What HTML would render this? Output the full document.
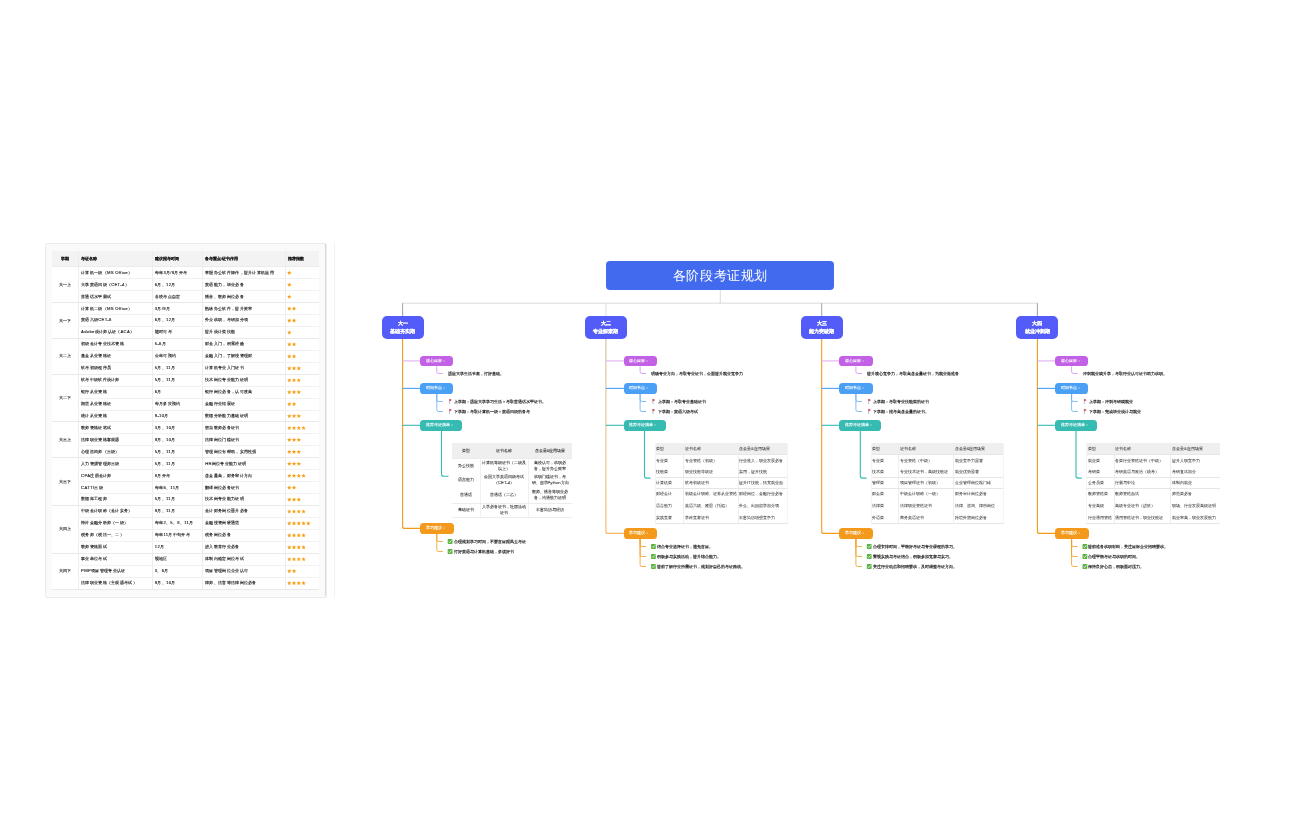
<!DOCTYPE html>
<html><head><meta charset="utf-8"><style>
html,body{margin:0;padding:0;background:#fff;width:1296px;height:840px;overflow:hidden}
#w{position:absolute;left:0;top:0;width:1296px;height:840px;will-change:transform;font-family:'Liberation Sans',sans-serif;}
.t{position:absolute;white-space:nowrap;-webkit-text-stroke:0.14px currentColor;font-family:'Liberation Sans',sans-serif;}
.b{position:absolute}
svg{position:absolute;left:0;top:0}
</style></head><body><div id="w">
<svg width="1296" height="840"><defs><linearGradient id="g2" gradientUnits="userSpaceOnUse" x1="0" y1="339" x2="0" y2="534"><stop offset="0" stop-color="#cdbf9e"/><stop offset="0.5" stop-color="#e6c48a"/><stop offset="1" stop-color="#f6b560"/></linearGradient></defs><line x1="720.30" y1="289.90" x2="720.30" y2="303.20" stroke="#d2d2d2" stroke-width="0.8"/><line x1="402.20" y1="303.20" x2="1037.80" y2="303.20" stroke="#d2d2d2" stroke-width="0.8"/><line x1="402.60" y1="303.20" x2="402.60" y2="316.00" stroke="#8a8a8a" stroke-width="0.8"/><line x1="605.90" y1="303.20" x2="605.90" y2="316.00" stroke="#d6d6d6" stroke-width="0.8"/><line x1="821.70" y1="303.20" x2="821.70" y2="316.00" stroke="#8a8a8a" stroke-width="0.8"/><line x1="1037.40" y1="303.20" x2="1037.40" y2="316.00" stroke="#8a8a8a" stroke-width="0.8"/><path d="M402.6 339 V526.4 Q402.6 528.4 404.6 528.4 H421.3" stroke="#f39a1c" stroke-width="1.1" fill="none"/><line x1="402.60" y1="360.90" x2="421.30" y2="360.90" stroke="#e4b6f4" stroke-width="1.2"/><line x1="402.60" y1="388.40" x2="421.30" y2="388.40" stroke="#4aa0f5" stroke-width="1.1"/><line x1="402.60" y1="425.30" x2="421.30" y2="425.30" stroke="#35bbb1" stroke-width="1.1"/><path d="M436.80 366.4 V371.7 Q436.80 373.5 438.60 373.5 H442.80" stroke="#d38bf0" stroke-width="0.8" fill="none"/><path d="M436.80 393.9 V399.70 Q436.80 401.5 438.60 401.5 H442.80" stroke="#62acf6" stroke-width="0.8" fill="none"/><path d="M436.80 393.9 V409.70 Q436.80 411.5 438.60 411.5 H442.80" stroke="#62acf6" stroke-width="0.8" fill="none"/><path d="M436.80 533.8 V539.70 Q436.80 541.5 438.60 541.5 H442.80" stroke="#f39a1c" stroke-width="0.8" fill="none"/><path d="M436.80 533.8 V549.70 Q436.80 551.5 438.60 551.5 H442.80" stroke="#f39a1c" stroke-width="0.8" fill="none"/><path d="M605.9 339 V531.4 Q605.9 533.4 607.9 533.4 H624.6" stroke="url(#g2)" stroke-width="1.1" fill="none"/><line x1="605.90" y1="360.90" x2="624.60" y2="360.90" stroke="#e4b6f4" stroke-width="1.2"/><line x1="605.90" y1="388.40" x2="624.60" y2="388.40" stroke="#4aa0f5" stroke-width="1.1"/><line x1="605.90" y1="425.30" x2="624.60" y2="425.30" stroke="#35bbb1" stroke-width="1.1"/><path d="M640.10 366.4 V371.7 Q640.10 373.5 641.90 373.5 H646.10" stroke="#d38bf0" stroke-width="0.8" fill="none"/><path d="M640.10 393.9 V399.70 Q640.10 401.5 641.90 401.5 H646.10" stroke="#62acf6" stroke-width="0.8" fill="none"/><path d="M640.10 393.9 V409.70 Q640.10 411.5 641.90 411.5 H646.10" stroke="#62acf6" stroke-width="0.8" fill="none"/><path d="M640.10 538.6 V544.70 Q640.10 546.5 641.90 546.5 H646.10" stroke="#f39a1c" stroke-width="0.8" fill="none"/><path d="M640.10 538.6 V554.70 Q640.10 556.5 641.90 556.5 H646.10" stroke="#f39a1c" stroke-width="0.8" fill="none"/><path d="M640.10 538.6 V564.70 Q640.10 566.5 641.90 566.5 H646.10" stroke="#f39a1c" stroke-width="0.8" fill="none"/><path d="M821.7 339 V531.4 Q821.7 533.4 823.7 533.4 H840.4000000000001" stroke="#f39a1c" stroke-width="1.1" fill="none"/><line x1="821.70" y1="360.90" x2="840.40" y2="360.90" stroke="#e4b6f4" stroke-width="1.2"/><line x1="821.70" y1="388.40" x2="840.40" y2="388.40" stroke="#4aa0f5" stroke-width="1.1"/><line x1="821.70" y1="425.30" x2="840.40" y2="425.30" stroke="#35bbb1" stroke-width="1.1"/><path d="M855.90 366.4 V371.7 Q855.90 373.5 857.70 373.5 H861.90" stroke="#d38bf0" stroke-width="0.8" fill="none"/><path d="M855.90 393.9 V399.70 Q855.90 401.5 857.70 401.5 H861.90" stroke="#62acf6" stroke-width="0.8" fill="none"/><path d="M855.90 393.9 V409.70 Q855.90 411.5 857.70 411.5 H861.90" stroke="#62acf6" stroke-width="0.8" fill="none"/><path d="M855.90 538.6 V544.70 Q855.90 546.5 857.70 546.5 H861.90" stroke="#f39a1c" stroke-width="0.8" fill="none"/><path d="M855.90 538.6 V554.70 Q855.90 556.5 857.70 556.5 H861.90" stroke="#f39a1c" stroke-width="0.8" fill="none"/><path d="M855.90 538.6 V564.70 Q855.90 566.5 857.70 566.5 H861.90" stroke="#f39a1c" stroke-width="0.8" fill="none"/><path d="M1037.4 339 V531.4 Q1037.4 533.4 1039.4 533.4 H1056.1000000000001" stroke="#f39a1c" stroke-width="1.1" fill="none"/><line x1="1037.40" y1="360.90" x2="1056.10" y2="360.90" stroke="#e4b6f4" stroke-width="1.2"/><line x1="1037.40" y1="388.40" x2="1056.10" y2="388.40" stroke="#4aa0f5" stroke-width="1.1"/><line x1="1037.40" y1="425.30" x2="1056.10" y2="425.30" stroke="#35bbb1" stroke-width="1.1"/><path d="M1071.60 366.4 V371.7 Q1071.60 373.5 1073.40 373.5 H1077.60" stroke="#d38bf0" stroke-width="0.8" fill="none"/><path d="M1071.60 393.9 V399.70 Q1071.60 401.5 1073.40 401.5 H1077.60" stroke="#62acf6" stroke-width="0.8" fill="none"/><path d="M1071.60 393.9 V409.70 Q1071.60 411.5 1073.40 411.5 H1077.60" stroke="#62acf6" stroke-width="0.8" fill="none"/><path d="M1071.60 538.6 V544.70 Q1071.60 546.5 1073.40 546.5 H1077.60" stroke="#f39a1c" stroke-width="0.8" fill="none"/><path d="M1071.60 538.6 V554.70 Q1071.60 556.5 1073.40 556.5 H1077.60" stroke="#f39a1c" stroke-width="0.8" fill="none"/><path d="M1071.60 538.6 V564.70 Q1071.60 566.5 1073.40 566.5 H1077.60" stroke="#f39a1c" stroke-width="0.8" fill="none"/><path d="M441.5 430.6 V474.3 Q441.5 476.3 443.5 476.3 H448.5" stroke="#35bbb1" stroke-width="1.1" fill="none"/><path d="M644.50 430.6 V476.1 Q644.50 478.1 646.50 478.1 H650.50" stroke="#35bbb1" stroke-width="1.1" fill="none"/><path d="M860.30 430.6 V476.1 Q860.30 478.1 862.30 478.1 H866.50" stroke="#35bbb1" stroke-width="1.1" fill="none"/><path d="M1076.00 430.6 V476.1 Q1076.00 478.1 1078.00 478.1 H1081.70" stroke="#35bbb1" stroke-width="1.1" fill="none"/></svg>
<div class="b" style="left:45.20px;top:243.00px;width:281.50px;height:354.60px;background:#fafafa;border:0.6px solid #ececec;border-radius:2px;box-sizing:border-box"></div>
<div class="b" style="left:325.40px;top:244.20px;width:1.00px;height:352.00px;background:#d8d8d8;"></div>
<div class="b" style="left:333.80px;top:243.00px;width:0.70px;height:354.00px;background:#f2f2f2;"></div>
<div class="b" style="left:52.30px;top:251.20px;width:266.60px;height:15.50px;background:#f3f3f3;"></div>
<div class="b" style="left:52.30px;top:266.70px;width:266.60px;height:322.20px;background:#fff;"></div>
<div class="t" style="left:52.3px;top:251.2px;width:26.200000000000003px;height:15.5px;line-height:15.5px;text-align:center;font-size:4.3px;font-weight:bold;color:#1a1a1a;-webkit-text-stroke:0.08px #1a1a1a">学期</div>
<div class="t" style="left:81.10px;top:251.20px;height:15.50px;line-height:15.50px;font-size:4.3px;color:#1a1a1a;font-weight:bold;-webkit-text-stroke:0.08px #1a1a1a">考证名称</div>
<div class="t" style="left:154.80px;top:251.20px;height:15.50px;line-height:15.50px;font-size:4.3px;color:#1a1a1a;font-weight:bold;-webkit-text-stroke:0.08px #1a1a1a">建议报考时间</div>
<div class="t" style="left:205.20px;top:251.20px;height:15.50px;line-height:15.50px;font-size:4.3px;color:#1a1a1a;font-weight:bold;-webkit-text-stroke:0.08px #1a1a1a">备考重点/证书作用</div>
<div class="t" style="left:288.00px;top:251.20px;height:15.50px;line-height:15.50px;font-size:4.3px;color:#1a1a1a;font-weight:bold;-webkit-text-stroke:0.08px #1a1a1a">推荐指数</div>
<div class="b" style="left:78.20px;top:251.20px;width:0.60px;height:337.70px;background:#ededed;"></div>
<div class="b" style="left:151.90px;top:251.20px;width:0.60px;height:337.70px;background:#ededed;"></div>
<div class="b" style="left:202.30px;top:251.20px;width:0.60px;height:337.70px;background:#ededed;"></div>
<div class="b" style="left:285.10px;top:251.20px;width:0.60px;height:337.70px;background:#ededed;"></div>
<div class="t" style="left:52.3px;top:266.70px;width:26.200000000000003px;height:35.80px;line-height:35.80px;text-align:center;font-size:4.3px;color:#111;-webkit-text-stroke:0.12px #111">大一上</div>
<div class="t" style="left:81.10px;top:266.70px;height:11.93px;line-height:11.93px;font-size:4.2px;color:#1a1a1a;letter-spacing:0.3px;-webkit-text-stroke:0.12px #1a1a1a">计算机一级（MS Office）</div>
<div class="t" style="left:154.80px;top:266.70px;height:11.93px;line-height:11.93px;font-size:4.2px;color:#1a1a1a;letter-spacing:0.3px;-webkit-text-stroke:0.12px #1a1a1a">每年3月/9月开考</div>
<div class="t" style="left:205.20px;top:266.70px;height:11.93px;line-height:11.93px;font-size:4.2px;color:#1a1a1a;letter-spacing:0.3px;-webkit-text-stroke:0.12px #1a1a1a">掌握办公软件操作，提升计算机应用</div>
<div class="b" style="left:78.50px;top:278.33px;width:240.40px;height:0.60px;background:#f1f1f1;"></div>
<div class="t" style="left:81.10px;top:278.63px;height:11.93px;line-height:11.93px;font-size:4.2px;color:#1a1a1a;letter-spacing:0.3px;-webkit-text-stroke:0.12px #1a1a1a">大学英语四级（CET-4）</div>
<div class="t" style="left:154.80px;top:278.63px;height:11.93px;line-height:11.93px;font-size:4.2px;color:#1a1a1a;letter-spacing:0.3px;-webkit-text-stroke:0.12px #1a1a1a">6月、12月</div>
<div class="t" style="left:205.20px;top:278.63px;height:11.93px;line-height:11.93px;font-size:4.2px;color:#1a1a1a;letter-spacing:0.3px;-webkit-text-stroke:0.12px #1a1a1a">英语能力，毕业必备</div>
<div class="b" style="left:78.50px;top:290.27px;width:240.40px;height:0.60px;background:#f1f1f1;"></div>
<div class="t" style="left:81.10px;top:290.57px;height:11.93px;line-height:11.93px;font-size:4.2px;color:#1a1a1a;letter-spacing:0.3px;-webkit-text-stroke:0.12px #1a1a1a">普通话水平测试</div>
<div class="t" style="left:154.80px;top:290.57px;height:11.93px;line-height:11.93px;font-size:4.2px;color:#1a1a1a;letter-spacing:0.3px;-webkit-text-stroke:0.12px #1a1a1a">各校考点自定</div>
<div class="t" style="left:205.20px;top:290.57px;height:11.93px;line-height:11.93px;font-size:4.2px;color:#1a1a1a;letter-spacing:0.3px;-webkit-text-stroke:0.12px #1a1a1a">播音、教师岗位必备</div>
<div class="b" style="left:52.30px;top:302.10px;width:266.60px;height:0.80px;background:#e9e9e9;"></div>
<div class="t" style="left:52.3px;top:302.50px;width:26.200000000000003px;height:35.80px;line-height:35.80px;text-align:center;font-size:4.3px;color:#111;-webkit-text-stroke:0.12px #111">大一下</div>
<div class="t" style="left:81.10px;top:302.50px;height:11.93px;line-height:11.93px;font-size:4.2px;color:#1a1a1a;letter-spacing:0.3px;-webkit-text-stroke:0.12px #1a1a1a">计算机二级（MS Office）</div>
<div class="t" style="left:154.80px;top:302.50px;height:11.93px;line-height:11.93px;font-size:4.2px;color:#1a1a1a;letter-spacing:0.3px;-webkit-text-stroke:0.12px #1a1a1a">3月/9月</div>
<div class="t" style="left:205.20px;top:302.50px;height:11.93px;line-height:11.93px;font-size:4.2px;color:#1a1a1a;letter-spacing:0.3px;-webkit-text-stroke:0.12px #1a1a1a">熟练办公软件，提升效率</div>
<div class="b" style="left:78.50px;top:314.13px;width:240.40px;height:0.60px;background:#f1f1f1;"></div>
<div class="t" style="left:81.10px;top:314.43px;height:11.93px;line-height:11.93px;font-size:4.2px;color:#1a1a1a;letter-spacing:0.3px;-webkit-text-stroke:0.12px #1a1a1a">英语六级CET-6</div>
<div class="t" style="left:154.80px;top:314.43px;height:11.93px;line-height:11.93px;font-size:4.2px;color:#1a1a1a;letter-spacing:0.3px;-webkit-text-stroke:0.12px #1a1a1a">6月、12月</div>
<div class="t" style="left:205.20px;top:314.43px;height:11.93px;line-height:11.93px;font-size:4.2px;color:#1a1a1a;letter-spacing:0.3px;-webkit-text-stroke:0.12px #1a1a1a">外企求职，考研加分项</div>
<div class="b" style="left:78.50px;top:326.07px;width:240.40px;height:0.60px;background:#f1f1f1;"></div>
<div class="t" style="left:81.10px;top:326.37px;height:11.93px;line-height:11.93px;font-size:4.2px;color:#1a1a1a;letter-spacing:0.3px;-webkit-text-stroke:0.12px #1a1a1a">Adobe设计师认证（ACA）</div>
<div class="t" style="left:154.80px;top:326.37px;height:11.93px;line-height:11.93px;font-size:4.2px;color:#1a1a1a;letter-spacing:0.3px;-webkit-text-stroke:0.12px #1a1a1a">随时可考</div>
<div class="t" style="left:205.20px;top:326.37px;height:11.93px;line-height:11.93px;font-size:4.2px;color:#1a1a1a;letter-spacing:0.3px;-webkit-text-stroke:0.12px #1a1a1a">提升设计类技能</div>
<div class="b" style="left:52.30px;top:337.90px;width:266.60px;height:0.80px;background:#e9e9e9;"></div>
<div class="t" style="left:52.3px;top:338.30px;width:26.200000000000003px;height:35.80px;line-height:35.80px;text-align:center;font-size:4.3px;color:#111;-webkit-text-stroke:0.12px #111">大二上</div>
<div class="t" style="left:81.10px;top:338.30px;height:11.93px;line-height:11.93px;font-size:4.2px;color:#1a1a1a;letter-spacing:0.3px;-webkit-text-stroke:0.12px #1a1a1a">初级会计专业技术资格</div>
<div class="t" style="left:154.80px;top:338.30px;height:11.93px;line-height:11.93px;font-size:4.2px;color:#1a1a1a;letter-spacing:0.3px;-webkit-text-stroke:0.12px #1a1a1a">5-6月</div>
<div class="t" style="left:205.20px;top:338.30px;height:11.93px;line-height:11.93px;font-size:4.2px;color:#1a1a1a;letter-spacing:0.3px;-webkit-text-stroke:0.12px #1a1a1a">财会入门，积累经验</div>
<div class="b" style="left:78.50px;top:349.93px;width:240.40px;height:0.60px;background:#f1f1f1;"></div>
<div class="t" style="left:81.10px;top:350.23px;height:11.93px;line-height:11.93px;font-size:4.2px;color:#1a1a1a;letter-spacing:0.3px;-webkit-text-stroke:0.12px #1a1a1a">基金从业资格证</div>
<div class="t" style="left:154.80px;top:350.23px;height:11.93px;line-height:11.93px;font-size:4.2px;color:#1a1a1a;letter-spacing:0.3px;-webkit-text-stroke:0.12px #1a1a1a">全年可预约</div>
<div class="t" style="left:205.20px;top:350.23px;height:11.93px;line-height:11.93px;font-size:4.2px;color:#1a1a1a;letter-spacing:0.3px;-webkit-text-stroke:0.12px #1a1a1a">金融入门，了解投资理财</div>
<div class="b" style="left:78.50px;top:361.87px;width:240.40px;height:0.60px;background:#f1f1f1;"></div>
<div class="t" style="left:81.10px;top:362.17px;height:11.93px;line-height:11.93px;font-size:4.2px;color:#1a1a1a;letter-spacing:0.3px;-webkit-text-stroke:0.12px #1a1a1a">软考初级程序员</div>
<div class="t" style="left:154.80px;top:362.17px;height:11.93px;line-height:11.93px;font-size:4.2px;color:#1a1a1a;letter-spacing:0.3px;-webkit-text-stroke:0.12px #1a1a1a">5月、11月</div>
<div class="t" style="left:205.20px;top:362.17px;height:11.93px;line-height:11.93px;font-size:4.2px;color:#1a1a1a;letter-spacing:0.3px;-webkit-text-stroke:0.12px #1a1a1a">计算机专业入门证书</div>
<div class="b" style="left:52.30px;top:373.70px;width:266.60px;height:0.80px;background:#e9e9e9;"></div>
<div class="t" style="left:52.3px;top:374.10px;width:26.200000000000003px;height:47.73px;line-height:47.73px;text-align:center;font-size:4.3px;color:#111;-webkit-text-stroke:0.12px #111">大二下</div>
<div class="t" style="left:81.10px;top:374.10px;height:11.93px;line-height:11.93px;font-size:4.2px;color:#1a1a1a;letter-spacing:0.3px;-webkit-text-stroke:0.12px #1a1a1a">软考中级软件设计师</div>
<div class="t" style="left:154.80px;top:374.10px;height:11.93px;line-height:11.93px;font-size:4.2px;color:#1a1a1a;letter-spacing:0.3px;-webkit-text-stroke:0.12px #1a1a1a">5月、11月</div>
<div class="t" style="left:205.20px;top:374.10px;height:11.93px;line-height:11.93px;font-size:4.2px;color:#1a1a1a;letter-spacing:0.3px;-webkit-text-stroke:0.12px #1a1a1a">技术岗位专业能力证明</div>
<div class="b" style="left:78.50px;top:385.73px;width:240.40px;height:0.60px;background:#f1f1f1;"></div>
<div class="t" style="left:81.10px;top:386.03px;height:11.93px;line-height:11.93px;font-size:4.2px;color:#1a1a1a;letter-spacing:0.3px;-webkit-text-stroke:0.12px #1a1a1a">银行从业资格</div>
<div class="t" style="left:154.80px;top:386.03px;height:11.93px;line-height:11.93px;font-size:4.2px;color:#1a1a1a;letter-spacing:0.3px;-webkit-text-stroke:0.12px #1a1a1a">6月</div>
<div class="t" style="left:205.20px;top:386.03px;height:11.93px;line-height:11.93px;font-size:4.2px;color:#1a1a1a;letter-spacing:0.3px;-webkit-text-stroke:0.12px #1a1a1a">银行岗位必备，认可度高</div>
<div class="b" style="left:78.50px;top:397.67px;width:240.40px;height:0.60px;background:#f1f1f1;"></div>
<div class="t" style="left:81.10px;top:397.97px;height:11.93px;line-height:11.93px;font-size:4.2px;color:#1a1a1a;letter-spacing:0.3px;-webkit-text-stroke:0.12px #1a1a1a">期货从业资格证</div>
<div class="t" style="left:154.80px;top:397.97px;height:11.93px;line-height:11.93px;font-size:4.2px;color:#1a1a1a;letter-spacing:0.3px;-webkit-text-stroke:0.12px #1a1a1a">每月多次预约</div>
<div class="t" style="left:205.20px;top:397.97px;height:11.93px;line-height:11.93px;font-size:4.2px;color:#1a1a1a;letter-spacing:0.3px;-webkit-text-stroke:0.12px #1a1a1a">金融行业拓展证</div>
<div class="b" style="left:78.50px;top:409.60px;width:240.40px;height:0.60px;background:#f1f1f1;"></div>
<div class="t" style="left:81.10px;top:409.90px;height:11.93px;line-height:11.93px;font-size:4.2px;color:#1a1a1a;letter-spacing:0.3px;-webkit-text-stroke:0.12px #1a1a1a">统计从业资格</div>
<div class="t" style="left:154.80px;top:409.90px;height:11.93px;line-height:11.93px;font-size:4.2px;color:#1a1a1a;letter-spacing:0.3px;-webkit-text-stroke:0.12px #1a1a1a">9-10月</div>
<div class="t" style="left:205.20px;top:409.90px;height:11.93px;line-height:11.93px;font-size:4.2px;color:#1a1a1a;letter-spacing:0.3px;-webkit-text-stroke:0.12px #1a1a1a">数据分析能力基础证明</div>
<div class="b" style="left:52.30px;top:421.43px;width:266.60px;height:0.80px;background:#e9e9e9;"></div>
<div class="t" style="left:52.3px;top:421.83px;width:26.200000000000003px;height:35.80px;line-height:35.80px;text-align:center;font-size:4.3px;color:#111;-webkit-text-stroke:0.12px #111">大三上</div>
<div class="t" style="left:81.10px;top:421.83px;height:11.93px;line-height:11.93px;font-size:4.2px;color:#1a1a1a;letter-spacing:0.3px;-webkit-text-stroke:0.12px #1a1a1a">教师资格证笔试</div>
<div class="t" style="left:154.80px;top:421.83px;height:11.93px;line-height:11.93px;font-size:4.2px;color:#1a1a1a;letter-spacing:0.3px;-webkit-text-stroke:0.12px #1a1a1a">3月、10月</div>
<div class="t" style="left:205.20px;top:421.83px;height:11.93px;line-height:11.93px;font-size:4.2px;color:#1a1a1a;letter-spacing:0.3px;-webkit-text-stroke:0.12px #1a1a1a">想当教师必备证书</div>
<div class="b" style="left:78.50px;top:433.47px;width:240.40px;height:0.60px;background:#f1f1f1;"></div>
<div class="t" style="left:81.10px;top:433.77px;height:11.93px;line-height:11.93px;font-size:4.2px;color:#1a1a1a;letter-spacing:0.3px;-webkit-text-stroke:0.12px #1a1a1a">法律职业资格客观题</div>
<div class="t" style="left:154.80px;top:433.77px;height:11.93px;line-height:11.93px;font-size:4.2px;color:#1a1a1a;letter-spacing:0.3px;-webkit-text-stroke:0.12px #1a1a1a">9月、10月</div>
<div class="t" style="left:205.20px;top:433.77px;height:11.93px;line-height:11.93px;font-size:4.2px;color:#1a1a1a;letter-spacing:0.3px;-webkit-text-stroke:0.12px #1a1a1a">法律岗位门槛证书</div>
<div class="b" style="left:78.50px;top:445.40px;width:240.40px;height:0.60px;background:#f1f1f1;"></div>
<div class="t" style="left:81.10px;top:445.70px;height:11.93px;line-height:11.93px;font-size:4.2px;color:#1a1a1a;letter-spacing:0.3px;-webkit-text-stroke:0.12px #1a1a1a">心理咨询师（三级）</div>
<div class="t" style="left:154.80px;top:445.70px;height:11.93px;line-height:11.93px;font-size:4.2px;color:#1a1a1a;letter-spacing:0.3px;-webkit-text-stroke:0.12px #1a1a1a">5月、11月</div>
<div class="t" style="left:205.20px;top:445.70px;height:11.93px;line-height:11.93px;font-size:4.2px;color:#1a1a1a;letter-spacing:0.3px;-webkit-text-stroke:0.12px #1a1a1a">管理岗位有帮助，实用性强</div>
<div class="b" style="left:52.30px;top:457.23px;width:266.60px;height:0.80px;background:#e9e9e9;"></div>
<div class="t" style="left:52.3px;top:457.63px;width:26.200000000000003px;height:47.73px;line-height:47.73px;text-align:center;font-size:4.3px;color:#111;-webkit-text-stroke:0.12px #111">大三下</div>
<div class="t" style="left:81.10px;top:457.63px;height:11.93px;line-height:11.93px;font-size:4.2px;color:#1a1a1a;letter-spacing:0.3px;-webkit-text-stroke:0.12px #1a1a1a">人力资源管理师三级</div>
<div class="t" style="left:154.80px;top:457.63px;height:11.93px;line-height:11.93px;font-size:4.2px;color:#1a1a1a;letter-spacing:0.3px;-webkit-text-stroke:0.12px #1a1a1a">5月、11月</div>
<div class="t" style="left:205.20px;top:457.63px;height:11.93px;line-height:11.93px;font-size:4.2px;color:#1a1a1a;letter-spacing:0.3px;-webkit-text-stroke:0.12px #1a1a1a">HR岗位专业能力证明</div>
<div class="b" style="left:78.50px;top:469.27px;width:240.40px;height:0.60px;background:#f1f1f1;"></div>
<div class="t" style="left:81.10px;top:469.57px;height:11.93px;line-height:11.93px;font-size:4.2px;color:#1a1a1a;letter-spacing:0.3px;-webkit-text-stroke:0.12px #1a1a1a">CPA注册会计师</div>
<div class="t" style="left:154.80px;top:469.57px;height:11.93px;line-height:11.93px;font-size:4.2px;color:#1a1a1a;letter-spacing:0.3px;-webkit-text-stroke:0.12px #1a1a1a">8月开考</div>
<div class="t" style="left:205.20px;top:469.57px;height:11.93px;line-height:11.93px;font-size:4.2px;color:#1a1a1a;letter-spacing:0.3px;-webkit-text-stroke:0.12px #1a1a1a">含金量高，财务审计方向</div>
<div class="b" style="left:78.50px;top:481.20px;width:240.40px;height:0.60px;background:#f1f1f1;"></div>
<div class="t" style="left:81.10px;top:481.50px;height:11.93px;line-height:11.93px;font-size:4.2px;color:#1a1a1a;letter-spacing:0.3px;-webkit-text-stroke:0.12px #1a1a1a">CATTI三级</div>
<div class="t" style="left:154.80px;top:481.50px;height:11.93px;line-height:11.93px;font-size:4.2px;color:#1a1a1a;letter-spacing:0.3px;-webkit-text-stroke:0.12px #1a1a1a">每年6、11月</div>
<div class="t" style="left:205.20px;top:481.50px;height:11.93px;line-height:11.93px;font-size:4.2px;color:#1a1a1a;letter-spacing:0.3px;-webkit-text-stroke:0.12px #1a1a1a">翻译岗位必备证书</div>
<div class="b" style="left:78.50px;top:493.13px;width:240.40px;height:0.60px;background:#f1f1f1;"></div>
<div class="t" style="left:81.10px;top:493.43px;height:11.93px;line-height:11.93px;font-size:4.2px;color:#1a1a1a;letter-spacing:0.3px;-webkit-text-stroke:0.12px #1a1a1a">数据库工程师</div>
<div class="t" style="left:154.80px;top:493.43px;height:11.93px;line-height:11.93px;font-size:4.2px;color:#1a1a1a;letter-spacing:0.3px;-webkit-text-stroke:0.12px #1a1a1a">5月、11月</div>
<div class="t" style="left:205.20px;top:493.43px;height:11.93px;line-height:11.93px;font-size:4.2px;color:#1a1a1a;letter-spacing:0.3px;-webkit-text-stroke:0.12px #1a1a1a">技术岗专业能力证明</div>
<div class="b" style="left:52.30px;top:504.97px;width:266.60px;height:0.80px;background:#e9e9e9;"></div>
<div class="t" style="left:52.3px;top:505.37px;width:26.200000000000003px;height:47.73px;line-height:47.73px;text-align:center;font-size:4.3px;color:#111;-webkit-text-stroke:0.12px #111">大四上</div>
<div class="t" style="left:81.10px;top:505.37px;height:11.93px;line-height:11.93px;font-size:4.2px;color:#1a1a1a;letter-spacing:0.3px;-webkit-text-stroke:0.12px #1a1a1a">中级会计职称（会计实务）</div>
<div class="t" style="left:154.80px;top:505.37px;height:11.93px;line-height:11.93px;font-size:4.2px;color:#1a1a1a;letter-spacing:0.3px;-webkit-text-stroke:0.12px #1a1a1a">9月、11月</div>
<div class="t" style="left:205.20px;top:505.37px;height:11.93px;line-height:11.93px;font-size:4.2px;color:#1a1a1a;letter-spacing:0.3px;-webkit-text-stroke:0.12px #1a1a1a">会计财务岗位晋升必备</div>
<div class="b" style="left:78.50px;top:517.00px;width:240.40px;height:0.60px;background:#f1f1f1;"></div>
<div class="t" style="left:81.10px;top:517.30px;height:11.93px;line-height:11.93px;font-size:4.2px;color:#1a1a1a;letter-spacing:0.3px;-webkit-text-stroke:0.12px #1a1a1a">特许金融分析师（一级）</div>
<div class="t" style="left:154.80px;top:517.30px;height:11.93px;line-height:11.93px;font-size:4.2px;color:#1a1a1a;letter-spacing:0.3px;-webkit-text-stroke:0.12px #1a1a1a">每年2、5、8、11月</div>
<div class="t" style="left:205.20px;top:517.30px;height:11.93px;line-height:11.93px;font-size:4.2px;color:#1a1a1a;letter-spacing:0.3px;-webkit-text-stroke:0.12px #1a1a1a">金融投资岗硬通货</div>
<div class="b" style="left:78.50px;top:528.93px;width:240.40px;height:0.60px;background:#f1f1f1;"></div>
<div class="t" style="left:81.10px;top:529.23px;height:11.93px;line-height:11.93px;font-size:4.2px;color:#1a1a1a;letter-spacing:0.3px;-webkit-text-stroke:0.12px #1a1a1a">税务师（税法一、二）</div>
<div class="t" style="left:154.80px;top:529.23px;height:11.93px;line-height:11.93px;font-size:4.2px;color:#1a1a1a;letter-spacing:0.3px;-webkit-text-stroke:0.12px #1a1a1a">每年11月中旬开考</div>
<div class="t" style="left:205.20px;top:529.23px;height:11.93px;line-height:11.93px;font-size:4.2px;color:#1a1a1a;letter-spacing:0.3px;-webkit-text-stroke:0.12px #1a1a1a">税务岗位必备</div>
<div class="b" style="left:78.50px;top:540.87px;width:240.40px;height:0.60px;background:#f1f1f1;"></div>
<div class="t" style="left:81.10px;top:541.17px;height:11.93px;line-height:11.93px;font-size:4.2px;color:#1a1a1a;letter-spacing:0.3px;-webkit-text-stroke:0.12px #1a1a1a">教师资格面试</div>
<div class="t" style="left:154.80px;top:541.17px;height:11.93px;line-height:11.93px;font-size:4.2px;color:#1a1a1a;letter-spacing:0.3px;-webkit-text-stroke:0.12px #1a1a1a">12月</div>
<div class="t" style="left:205.20px;top:541.17px;height:11.93px;line-height:11.93px;font-size:4.2px;color:#1a1a1a;letter-spacing:0.3px;-webkit-text-stroke:0.12px #1a1a1a">进入教育行业必备</div>
<div class="b" style="left:52.30px;top:552.70px;width:266.60px;height:0.80px;background:#e9e9e9;"></div>
<div class="t" style="left:52.3px;top:553.10px;width:26.200000000000003px;height:35.80px;line-height:35.80px;text-align:center;font-size:4.3px;color:#111;-webkit-text-stroke:0.12px #111">大四下</div>
<div class="t" style="left:81.10px;top:553.10px;height:11.93px;line-height:11.93px;font-size:4.2px;color:#1a1a1a;letter-spacing:0.3px;-webkit-text-stroke:0.12px #1a1a1a">事业单位考试</div>
<div class="t" style="left:154.80px;top:553.10px;height:11.93px;line-height:11.93px;font-size:4.2px;color:#1a1a1a;letter-spacing:0.3px;-webkit-text-stroke:0.12px #1a1a1a">视地区</div>
<div class="t" style="left:205.20px;top:553.10px;height:11.93px;line-height:11.93px;font-size:4.2px;color:#1a1a1a;letter-spacing:0.3px;-webkit-text-stroke:0.12px #1a1a1a">体制内稳定岗位考试</div>
<div class="b" style="left:78.50px;top:564.73px;width:240.40px;height:0.60px;background:#f1f1f1;"></div>
<div class="t" style="left:81.10px;top:565.03px;height:11.93px;line-height:11.93px;font-size:4.2px;color:#1a1a1a;letter-spacing:0.3px;-webkit-text-stroke:0.12px #1a1a1a">PMP项目管理专业认证</div>
<div class="t" style="left:154.80px;top:565.03px;height:11.93px;line-height:11.93px;font-size:4.2px;color:#1a1a1a;letter-spacing:0.3px;-webkit-text-stroke:0.12px #1a1a1a">3、6月</div>
<div class="t" style="left:205.20px;top:565.03px;height:11.93px;line-height:11.93px;font-size:4.2px;color:#1a1a1a;letter-spacing:0.3px;-webkit-text-stroke:0.12px #1a1a1a">项目管理岗位企业认可</div>
<div class="b" style="left:78.50px;top:576.67px;width:240.40px;height:0.60px;background:#f1f1f1;"></div>
<div class="t" style="left:81.10px;top:576.97px;height:11.93px;line-height:11.93px;font-size:4.2px;color:#1a1a1a;letter-spacing:0.3px;-webkit-text-stroke:0.12px #1a1a1a">法律职业资格（主观题考试）</div>
<div class="t" style="left:154.80px;top:576.97px;height:11.93px;line-height:11.93px;font-size:4.2px;color:#1a1a1a;letter-spacing:0.3px;-webkit-text-stroke:0.12px #1a1a1a">9月、10月</div>
<div class="t" style="left:205.20px;top:576.97px;height:11.93px;line-height:11.93px;font-size:4.2px;color:#1a1a1a;letter-spacing:0.3px;-webkit-text-stroke:0.12px #1a1a1a">律师、法官等法律岗位必备</div>
<div class="b" style="left:52.30px;top:588.50px;width:266.60px;height:0.80px;background:#e9e9e9;"></div>
<div class="b" style="left:52.30px;top:266.30px;width:266.60px;height:0.80px;background:#ebebeb;"></div>
<div class="t" style="left:606px;top:260.6px;width:228.2px;height:29.1px;background:#416aef;border-radius:4px;color:#fff;font-size:13px;letter-spacing:0.55px;text-indent:0.55px;line-height:29.1px;-webkit-text-stroke:0;text-align:center">各阶段考证规划</div>
<div class="t" style="left:381.50px;top:316px;width:42.2px;height:23px;background:#535cf9;border-radius:5px;color:#fff;font-weight:bold;font-size:5.4px;line-height:8.6px;-webkit-text-stroke:0.1px #fff;text-align:center;white-space:normal;padding-top:2.5px;box-sizing:border-box">大一<br>基础夯实期</div>
<div class="t" style="left:420.30px;top:355.5px;width:33.2px;height:10.90px;background:#c260e6;border-radius:3.6px;color:#fff;font-size:4.4px;-webkit-text-stroke:0.08px #fff;line-height:10.90px;padding-left:5.6px;box-sizing:border-box">核心目标：</div>
<div class="t" style="left:420.30px;top:383px;width:33.2px;height:10.90px;background:#4aa0f5;border-radius:3.6px;color:#fff;font-size:4.4px;-webkit-text-stroke:0.08px #fff;line-height:10.90px;padding-left:5.6px;box-sizing:border-box">时间节点：</div>
<div class="t" style="left:420.30px;top:419.9px;width:42px;height:10.70px;background:#35bbb1;border-radius:3.6px;color:#fff;font-size:4.4px;-webkit-text-stroke:0.08px #fff;line-height:10.70px;padding-left:5.6px;box-sizing:border-box">推荐考证清单：</div>
<div class="t" style="left:420.30px;top:523px;width:33.5px;height:10.80px;background:#f39a1c;border-radius:3.6px;color:#fff;font-size:4.4px;-webkit-text-stroke:0.08px #fff;line-height:10.80px;padding-left:5.6px;box-sizing:border-box">学习建议：</div>
<div class="t" style="left:447.90px;top:370.30px;height:7.00px;line-height:7.00px;font-size:4.3px;color:#1a1a1a;">适应大学生活节奏，打好基础。</div>
<div class="t" style="left:454.30px;top:398.10px;height:7.00px;line-height:7.00px;font-size:4.3px;color:#1a1a1a;">上学期：适应大学学习生活＋考取普通话水平证书。</div>
<div class="t" style="left:454.30px;top:408.10px;height:7.00px;line-height:7.00px;font-size:4.3px;color:#1a1a1a;">下学期：考取计算机一级＋英语四级的备考</div>
<div class="t" style="left:453.50px;top:538.10px;height:7.00px;line-height:7.00px;font-size:4.3px;color:#1a1a1a;">合理规划学习时间，不要盲目跟风去考证</div>
<div class="t" style="left:453.50px;top:548.10px;height:7.00px;line-height:7.00px;font-size:4.3px;color:#1a1a1a;">打好英语与计算机基础，多读好书</div>
<div class="t" style="left:584.80px;top:316px;width:42.2px;height:23px;background:#535cf9;border-radius:5px;color:#fff;font-weight:bold;font-size:5.4px;line-height:8.6px;-webkit-text-stroke:0.1px #fff;text-align:center;white-space:normal;padding-top:2.5px;box-sizing:border-box">大二<br>专业探索期</div>
<div class="t" style="left:623.60px;top:355.5px;width:33.2px;height:10.90px;background:#c260e6;border-radius:3.6px;color:#fff;font-size:4.4px;-webkit-text-stroke:0.08px #fff;line-height:10.90px;padding-left:5.6px;box-sizing:border-box">核心目标：</div>
<div class="t" style="left:623.60px;top:383px;width:33.2px;height:10.90px;background:#4aa0f5;border-radius:3.6px;color:#fff;font-size:4.4px;-webkit-text-stroke:0.08px #fff;line-height:10.90px;padding-left:5.6px;box-sizing:border-box">时间节点：</div>
<div class="t" style="left:623.60px;top:419.9px;width:42px;height:10.70px;background:#35bbb1;border-radius:3.6px;color:#fff;font-size:4.4px;-webkit-text-stroke:0.08px #fff;line-height:10.70px;padding-left:5.6px;box-sizing:border-box">推荐考证清单：</div>
<div class="t" style="left:623.60px;top:528.2px;width:33.5px;height:10.40px;background:#f39a1c;border-radius:3.6px;color:#fff;font-size:4.4px;-webkit-text-stroke:0.08px #fff;line-height:10.40px;padding-left:5.6px;box-sizing:border-box">学习建议：</div>
<div class="t" style="left:651.20px;top:370.30px;height:7.00px;line-height:7.00px;font-size:4.3px;color:#1a1a1a;">明确专业方向，考取专业证书，全面提升就业竞争力</div>
<div class="t" style="left:657.60px;top:398.10px;height:7.00px;line-height:7.00px;font-size:4.3px;color:#1a1a1a;">上学期：考取专业基础证书</div>
<div class="t" style="left:657.60px;top:408.10px;height:7.00px;line-height:7.00px;font-size:4.3px;color:#1a1a1a;">下学期：英语六级考试</div>
<div class="t" style="left:656.80px;top:543.10px;height:7.00px;line-height:7.00px;font-size:4.3px;color:#1a1a1a;">结合专业选择证书，避免盲目。</div>
<div class="t" style="left:656.80px;top:553.10px;height:7.00px;line-height:7.00px;font-size:4.3px;color:#1a1a1a;">积极参与实践活动，提升综合能力。</div>
<div class="t" style="left:656.80px;top:563.10px;height:7.00px;line-height:7.00px;font-size:4.3px;color:#1a1a1a;">提前了解行业所需证书，规划好自己的考证路线。</div>
<div class="t" style="left:800.60px;top:316px;width:42.2px;height:23px;background:#535cf9;border-radius:5px;color:#fff;font-weight:bold;font-size:5.4px;line-height:8.6px;-webkit-text-stroke:0.1px #fff;text-align:center;white-space:normal;padding-top:2.5px;box-sizing:border-box">大三<br>能力突破期</div>
<div class="t" style="left:839.40px;top:355.5px;width:33.2px;height:10.90px;background:#c260e6;border-radius:3.6px;color:#fff;font-size:4.4px;-webkit-text-stroke:0.08px #fff;line-height:10.90px;padding-left:5.6px;box-sizing:border-box">核心目标：</div>
<div class="t" style="left:839.40px;top:383px;width:33.2px;height:10.90px;background:#4aa0f5;border-radius:3.6px;color:#fff;font-size:4.4px;-webkit-text-stroke:0.08px #fff;line-height:10.90px;padding-left:5.6px;box-sizing:border-box">时间节点：</div>
<div class="t" style="left:839.40px;top:419.9px;width:42px;height:10.70px;background:#35bbb1;border-radius:3.6px;color:#fff;font-size:4.4px;-webkit-text-stroke:0.08px #fff;line-height:10.70px;padding-left:5.6px;box-sizing:border-box">推荐考证清单：</div>
<div class="t" style="left:839.40px;top:528.2px;width:33.5px;height:10.40px;background:#f39a1c;border-radius:3.6px;color:#fff;font-size:4.4px;-webkit-text-stroke:0.08px #fff;line-height:10.40px;padding-left:5.6px;box-sizing:border-box">学习建议：</div>
<div class="t" style="left:867.00px;top:370.30px;height:7.00px;line-height:7.00px;font-size:4.3px;color:#1a1a1a;">提升核心竞争力，考取高含金量证书，为就业做准备</div>
<div class="t" style="left:873.40px;top:398.10px;height:7.00px;line-height:7.00px;font-size:4.3px;color:#1a1a1a;">上学期：考取专业技能类的证书</div>
<div class="t" style="left:873.40px;top:408.10px;height:7.00px;line-height:7.00px;font-size:4.3px;color:#1a1a1a;">下学期：报考高含金量的证书。</div>
<div class="t" style="left:872.60px;top:543.10px;height:7.00px;line-height:7.00px;font-size:4.3px;color:#1a1a1a;">合理安排时间，平衡好考证与专业课程的学习。</div>
<div class="t" style="left:872.60px;top:553.10px;height:7.00px;line-height:7.00px;font-size:4.3px;color:#1a1a1a;">重视实践与考证结合，积极参加竞赛与实习。</div>
<div class="t" style="left:872.60px;top:563.10px;height:7.00px;line-height:7.00px;font-size:4.3px;color:#1a1a1a;">关注行业动态和招聘要求，及时调整考证方向。</div>
<div class="t" style="left:1016.30px;top:316px;width:42.2px;height:23px;background:#535cf9;border-radius:5px;color:#fff;font-weight:bold;font-size:5.4px;line-height:8.6px;-webkit-text-stroke:0.1px #fff;text-align:center;white-space:normal;padding-top:2.5px;box-sizing:border-box">大四<br>就业冲刺期</div>
<div class="t" style="left:1055.10px;top:355.5px;width:33.2px;height:10.90px;background:#c260e6;border-radius:3.6px;color:#fff;font-size:4.4px;-webkit-text-stroke:0.08px #fff;line-height:10.90px;padding-left:5.6px;box-sizing:border-box">核心目标：</div>
<div class="t" style="left:1055.10px;top:383px;width:33.2px;height:10.90px;background:#4aa0f5;border-radius:3.6px;color:#fff;font-size:4.4px;-webkit-text-stroke:0.08px #fff;line-height:10.90px;padding-left:5.6px;box-sizing:border-box">时间节点：</div>
<div class="t" style="left:1055.10px;top:419.9px;width:42px;height:10.70px;background:#35bbb1;border-radius:3.6px;color:#fff;font-size:4.4px;-webkit-text-stroke:0.08px #fff;line-height:10.70px;padding-left:5.6px;box-sizing:border-box">推荐考证清单：</div>
<div class="t" style="left:1055.10px;top:528.2px;width:33.5px;height:10.40px;background:#f39a1c;border-radius:3.6px;color:#fff;font-size:4.4px;-webkit-text-stroke:0.08px #fff;line-height:10.40px;padding-left:5.6px;box-sizing:border-box">学习建议：</div>
<div class="t" style="left:1082.70px;top:370.30px;height:7.00px;line-height:7.00px;font-size:4.3px;color:#1a1a1a;">冲刺就业或升学，考取行业认可证书助力求职。</div>
<div class="t" style="left:1089.10px;top:398.10px;height:7.00px;line-height:7.00px;font-size:4.3px;color:#1a1a1a;">上学期：冲刺考研或就业</div>
<div class="t" style="left:1089.10px;top:408.10px;height:7.00px;line-height:7.00px;font-size:4.3px;color:#1a1a1a;">下学期：完成毕业设计与就业</div>
<div class="t" style="left:1088.30px;top:543.10px;height:7.00px;line-height:7.00px;font-size:4.3px;color:#1a1a1a;">提前准备求职材料，关注目标企业招聘要求。</div>
<div class="t" style="left:1088.30px;top:553.10px;height:7.00px;line-height:7.00px;font-size:4.3px;color:#1a1a1a;">合理平衡考证与求职的时间。</div>
<div class="t" style="left:1088.30px;top:563.10px;height:7.00px;line-height:7.00px;font-size:4.3px;color:#1a1a1a;">保持良好心态，积极面对压力。</div>
<div class="b" style="left:452.00px;top:443.00px;width:119.90px;height:15.00px;background:#efefef;"></div>
<div class="b" style="left:452.00px;top:458.00px;width:119.90px;height:59.40px;background:#fff;"></div>
<div class="t" style="left:452px;top:443px;width:27.899999999999977px;height:15px;line-height:15px;text-align:center;font-size:4.2px;color:#1f1f1f;-webkit-text-stroke:0.06px #1f1f1f">类型</div>
<div class="t" style="left:479.9px;top:443px;width:48.30000000000007px;height:15px;line-height:15px;text-align:center;font-size:4.2px;color:#1f1f1f;-webkit-text-stroke:0.06px #1f1f1f">证书名称</div>
<div class="t" style="left:528.2px;top:443px;width:43.69999999999993px;height:15px;line-height:15px;text-align:center;font-size:4.2px;color:#1f1f1f;-webkit-text-stroke:0.06px #1f1f1f">含金量&应用场景</div>
<div class="t" style="left:454px;top:458px;width:23.90px;height:15.10px;display:flex;align-items:center;justify-content:center;text-align:center;font-size:4.2px;line-height:6px;color:#1f1f1f;white-space:normal;-webkit-text-stroke:0.06px #1f1f1f">办公技能</div>
<div class="t" style="left:481.9px;top:458px;width:44.30px;height:15.10px;display:flex;align-items:center;justify-content:center;text-align:center;font-size:4.2px;line-height:6px;color:#1f1f1f;white-space:normal;-webkit-text-stroke:0.06px #1f1f1f">计算机等级证书（二级及以上）</div>
<div class="t" style="left:530.2px;top:458px;width:39.70px;height:15.10px;display:flex;align-items:center;justify-content:center;text-align:center;font-size:4.2px;line-height:6px;color:#1f1f1f;white-space:normal;-webkit-text-stroke:0.06px #1f1f1f">高校认可，求职必备，提升办公效率</div>
<div class="t" style="left:454px;top:473.1px;width:23.90px;height:14.50px;display:flex;align-items:center;justify-content:center;text-align:center;font-size:4.2px;line-height:6px;color:#1f1f1f;white-space:normal;-webkit-text-stroke:0.06px #1f1f1f">语言能力</div>
<div class="t" style="left:481.9px;top:473.1px;width:44.30px;height:14.50px;display:flex;align-items:center;justify-content:center;text-align:center;font-size:4.2px;line-height:6px;color:#1f1f1f;white-space:normal;-webkit-text-stroke:0.06px #1f1f1f">全国大学英语四级考试（CET-4）</div>
<div class="t" style="left:530.2px;top:473.1px;width:39.70px;height:14.50px;display:flex;align-items:center;justify-content:center;text-align:center;font-size:4.2px;line-height:6px;color:#1f1f1f;white-space:normal;-webkit-text-stroke:0.06px #1f1f1f">求职门槛证书，考研、留学Python方向</div>
<div class="t" style="left:454px;top:487.6px;width:23.90px;height:15.10px;display:flex;align-items:center;justify-content:center;text-align:center;font-size:4.2px;line-height:6px;color:#1f1f1f;white-space:normal;-webkit-text-stroke:0.06px #1f1f1f">普通话</div>
<div class="t" style="left:481.9px;top:487.6px;width:44.30px;height:15.10px;display:flex;align-items:center;justify-content:center;text-align:center;font-size:4.2px;line-height:6px;color:#1f1f1f;white-space:normal;-webkit-text-stroke:0.06px #1f1f1f">普通话（二乙）</div>
<div class="t" style="left:530.2px;top:487.6px;width:39.70px;height:15.10px;display:flex;align-items:center;justify-content:center;text-align:center;font-size:4.2px;line-height:6px;color:#1f1f1f;white-space:normal;-webkit-text-stroke:0.06px #1f1f1f">教师、播音等职业必备，沟通能力证明</div>
<div class="t" style="left:454px;top:502.7px;width:23.90px;height:14.70px;display:flex;align-items:center;justify-content:center;text-align:center;font-size:4.2px;line-height:6px;color:#1f1f1f;white-space:normal;-webkit-text-stroke:0.06px #1f1f1f">基础证书</div>
<div class="t" style="left:481.9px;top:502.7px;width:44.30px;height:14.70px;display:flex;align-items:center;justify-content:center;text-align:center;font-size:4.2px;line-height:6px;color:#1f1f1f;white-space:normal;-webkit-text-stroke:0.06px #1f1f1f">入学必备证书，社团活动证书</div>
<div class="t" style="left:530.2px;top:502.7px;width:39.70px;height:14.70px;display:flex;align-items:center;justify-content:center;text-align:center;font-size:4.2px;line-height:6px;color:#1f1f1f;white-space:normal;-webkit-text-stroke:0.06px #1f1f1f">丰富简历与经历</div>
<div class="b" style="left:479.90px;top:443.00px;width:0.50px;height:74.40px;background:#f0f0f0;"></div>
<div class="b" style="left:528.20px;top:443.00px;width:0.50px;height:74.40px;background:#f0f0f0;"></div>
<div class="b" style="left:452.00px;top:458.00px;width:119.90px;height:0.60px;background:#ececec;"></div>
<div class="b" style="left:452.00px;top:502.70px;width:119.90px;height:0.60px;background:#ececec;"></div>
<div class="b" style="left:452.00px;top:517.20px;width:119.90px;height:0.60px;background:#ececec;"></div>
<div class="b" style="left:655.00px;top:443.40px;width:132.80px;height:11.10px;background:#efefef;"></div>
<div class="b" style="left:655.00px;top:454.50px;width:132.80px;height:68.30px;background:#fff;"></div>
<div class="t" style="left:656.30px;top:443.40px;height:11.10px;line-height:11.10px;font-size:4.2px;color:#2a2a2a;-webkit-text-stroke:0.03px #2a2a2a">类型</div>
<div class="t" style="left:684.60px;top:443.40px;height:11.10px;line-height:11.10px;font-size:4.2px;color:#2a2a2a;-webkit-text-stroke:0.03px #2a2a2a">证书名称</div>
<div class="t" style="left:739.10px;top:443.40px;height:11.10px;line-height:11.10px;font-size:4.2px;color:#2a2a2a;-webkit-text-stroke:0.03px #2a2a2a">含金量&应用场景</div>
<div class="t" style="left:656.30px;top:454.50px;height:11.50px;line-height:11.50px;font-size:4.2px;color:#2a2a2a;-webkit-text-stroke:0.03px #2a2a2a">专业类</div>
<div class="t" style="left:684.60px;top:454.50px;height:11.50px;line-height:11.50px;font-size:4.2px;color:#2a2a2a;-webkit-text-stroke:0.03px #2a2a2a">专业资格（初级）</div>
<div class="t" style="left:739.10px;top:454.50px;height:11.50px;line-height:11.50px;font-size:4.2px;color:#2a2a2a;-webkit-text-stroke:0.03px #2a2a2a">行业准入，职业发展必备</div>
<div class="t" style="left:656.30px;top:466.00px;height:11.50px;line-height:11.50px;font-size:4.2px;color:#2a2a2a;-webkit-text-stroke:0.03px #2a2a2a">技能类</div>
<div class="t" style="left:684.60px;top:466.00px;height:11.50px;line-height:11.50px;font-size:4.2px;color:#2a2a2a;-webkit-text-stroke:0.03px #2a2a2a">职业技能等级证</div>
<div class="t" style="left:739.10px;top:466.00px;height:11.50px;line-height:11.50px;font-size:4.2px;color:#2a2a2a;-webkit-text-stroke:0.03px #2a2a2a">实用，提升技能</div>
<div class="t" style="left:656.30px;top:477.50px;height:10.80px;line-height:10.80px;font-size:4.2px;color:#2a2a2a;-webkit-text-stroke:0.03px #2a2a2a">计算机类</div>
<div class="t" style="left:684.60px;top:477.50px;height:10.80px;line-height:10.80px;font-size:4.2px;color:#2a2a2a;-webkit-text-stroke:0.03px #2a2a2a">软考初级证书</div>
<div class="t" style="left:739.10px;top:477.50px;height:10.80px;line-height:10.80px;font-size:4.2px;color:#2a2a2a;-webkit-text-stroke:0.03px #2a2a2a">提升IT技能，拓宽就业面</div>
<div class="t" style="left:656.30px;top:488.30px;height:11.70px;line-height:11.70px;font-size:4.2px;color:#2a2a2a;-webkit-text-stroke:0.03px #2a2a2a">财经会计</div>
<div class="t" style="left:684.60px;top:488.30px;height:11.70px;line-height:11.70px;font-size:4.2px;color:#2a2a2a;-webkit-text-stroke:0.03px #2a2a2a">初级会计职称、证券从业资格</div>
<div class="t" style="left:739.10px;top:488.30px;height:11.70px;line-height:11.70px;font-size:4.2px;color:#2a2a2a;-webkit-text-stroke:0.03px #2a2a2a">财经岗位，金融行业必备</div>
<div class="t" style="left:656.30px;top:500.00px;height:11.50px;line-height:11.50px;font-size:4.2px;color:#2a2a2a;-webkit-text-stroke:0.03px #2a2a2a">语言能力</div>
<div class="t" style="left:684.60px;top:500.00px;height:11.50px;line-height:11.50px;font-size:4.2px;color:#2a2a2a;-webkit-text-stroke:0.03px #2a2a2a">英语六级、雅思（托福）</div>
<div class="t" style="left:739.10px;top:500.00px;height:11.50px;line-height:11.50px;font-size:4.2px;color:#2a2a2a;-webkit-text-stroke:0.03px #2a2a2a">外企、出国留学加分项</div>
<div class="t" style="left:656.30px;top:511.50px;height:11.30px;line-height:11.30px;font-size:4.2px;color:#2a2a2a;-webkit-text-stroke:0.03px #2a2a2a">实践竞赛</div>
<div class="t" style="left:684.60px;top:511.50px;height:11.30px;line-height:11.30px;font-size:4.2px;color:#2a2a2a;-webkit-text-stroke:0.03px #2a2a2a">学科竞赛证书</div>
<div class="t" style="left:739.10px;top:511.50px;height:11.30px;line-height:11.30px;font-size:4.2px;color:#2a2a2a;-webkit-text-stroke:0.03px #2a2a2a">丰富简历增强竞争力</div>
<div class="b" style="left:683.05px;top:443.40px;width:0.50px;height:79.40px;background:#ededed;"></div>
<div class="b" style="left:737.55px;top:443.40px;width:0.50px;height:79.40px;background:#ededed;"></div>
<div class="b" style="left:655.00px;top:454.20px;width:132.80px;height:0.60px;background:#e6e6e6;"></div>
<div class="b" style="left:655.00px;top:477.20px;width:132.80px;height:0.60px;background:#e6e6e6;"></div>
<div class="b" style="left:655.00px;top:488.00px;width:132.80px;height:0.60px;background:#e6e6e6;"></div>
<div class="b" style="left:655.00px;top:522.50px;width:132.80px;height:0.60px;background:#e6e6e6;"></div>
<div class="b" style="left:655.00px;top:443.40px;width:0.50px;height:79.40px;background:#f4f4f4;"></div>
<div class="b" style="left:787.30px;top:443.40px;width:0.50px;height:79.40px;background:#f4f4f4;"></div>
<div class="b" style="left:871.00px;top:443.40px;width:132.70px;height:11.10px;background:#efefef;"></div>
<div class="b" style="left:871.00px;top:454.50px;width:132.70px;height:68.30px;background:#fff;"></div>
<div class="t" style="left:872.30px;top:443.40px;height:11.10px;line-height:11.10px;font-size:4.2px;color:#2a2a2a;-webkit-text-stroke:0.03px #2a2a2a">类型</div>
<div class="t" style="left:899.90px;top:443.40px;height:11.10px;line-height:11.10px;font-size:4.2px;color:#2a2a2a;-webkit-text-stroke:0.03px #2a2a2a">证书名称</div>
<div class="t" style="left:954.70px;top:443.40px;height:11.10px;line-height:11.10px;font-size:4.2px;color:#2a2a2a;-webkit-text-stroke:0.03px #2a2a2a">含金量&应用场景</div>
<div class="t" style="left:872.30px;top:454.50px;height:11.50px;line-height:11.50px;font-size:4.2px;color:#2a2a2a;-webkit-text-stroke:0.03px #2a2a2a">专业类</div>
<div class="t" style="left:899.90px;top:454.50px;height:11.50px;line-height:11.50px;font-size:4.2px;color:#2a2a2a;-webkit-text-stroke:0.03px #2a2a2a">专业资格（中级）</div>
<div class="t" style="left:954.70px;top:454.50px;height:11.50px;line-height:11.50px;font-size:4.2px;color:#2a2a2a;-webkit-text-stroke:0.03px #2a2a2a">就业竞争力显著</div>
<div class="t" style="left:872.30px;top:466.00px;height:11.50px;line-height:11.50px;font-size:4.2px;color:#2a2a2a;-webkit-text-stroke:0.03px #2a2a2a">技术类</div>
<div class="t" style="left:899.90px;top:466.00px;height:11.50px;line-height:11.50px;font-size:4.2px;color:#2a2a2a;-webkit-text-stroke:0.03px #2a2a2a">专业技术证书，高级技能证</div>
<div class="t" style="left:954.70px;top:466.00px;height:11.50px;line-height:11.50px;font-size:4.2px;color:#2a2a2a;-webkit-text-stroke:0.03px #2a2a2a">就业优势显著</div>
<div class="t" style="left:872.30px;top:477.50px;height:10.80px;line-height:10.80px;font-size:4.2px;color:#2a2a2a;-webkit-text-stroke:0.03px #2a2a2a">管理类</div>
<div class="t" style="left:899.90px;top:477.50px;height:10.80px;line-height:10.80px;font-size:4.2px;color:#2a2a2a;-webkit-text-stroke:0.03px #2a2a2a">项目管理证书（初级）</div>
<div class="t" style="left:954.70px;top:477.50px;height:10.80px;line-height:10.80px;font-size:4.2px;color:#2a2a2a;-webkit-text-stroke:0.03px #2a2a2a">企业管理岗位敲门砖</div>
<div class="t" style="left:872.30px;top:488.30px;height:11.70px;line-height:11.70px;font-size:4.2px;color:#2a2a2a;-webkit-text-stroke:0.03px #2a2a2a">财会类</div>
<div class="t" style="left:899.90px;top:488.30px;height:11.70px;line-height:11.70px;font-size:4.2px;color:#2a2a2a;-webkit-text-stroke:0.03px #2a2a2a">中级会计职称（一级）</div>
<div class="t" style="left:954.70px;top:488.30px;height:11.70px;line-height:11.70px;font-size:4.2px;color:#2a2a2a;-webkit-text-stroke:0.03px #2a2a2a">财务审计岗位必备</div>
<div class="t" style="left:872.30px;top:500.00px;height:11.50px;line-height:11.50px;font-size:4.2px;color:#2a2a2a;-webkit-text-stroke:0.03px #2a2a2a">法律类</div>
<div class="t" style="left:899.90px;top:500.00px;height:11.50px;line-height:11.50px;font-size:4.2px;color:#2a2a2a;-webkit-text-stroke:0.03px #2a2a2a">法律职业资格证书</div>
<div class="t" style="left:954.70px;top:500.00px;height:11.50px;line-height:11.50px;font-size:4.2px;color:#2a2a2a;-webkit-text-stroke:0.03px #2a2a2a">法律、咨询、律所岗位</div>
<div class="t" style="left:872.30px;top:511.50px;height:11.30px;line-height:11.30px;font-size:4.2px;color:#2a2a2a;-webkit-text-stroke:0.03px #2a2a2a">外语类</div>
<div class="t" style="left:899.90px;top:511.50px;height:11.30px;line-height:11.30px;font-size:4.2px;color:#2a2a2a;-webkit-text-stroke:0.03px #2a2a2a">商务英语证书</div>
<div class="t" style="left:954.70px;top:511.50px;height:11.30px;line-height:11.30px;font-size:4.2px;color:#2a2a2a;-webkit-text-stroke:0.03px #2a2a2a">跨境外贸岗位必备</div>
<div class="b" style="left:898.35px;top:443.40px;width:0.50px;height:79.40px;background:#ededed;"></div>
<div class="b" style="left:953.15px;top:443.40px;width:0.50px;height:79.40px;background:#ededed;"></div>
<div class="b" style="left:871.00px;top:454.20px;width:132.70px;height:0.60px;background:#e6e6e6;"></div>
<div class="b" style="left:871.00px;top:477.20px;width:132.70px;height:0.60px;background:#e6e6e6;"></div>
<div class="b" style="left:871.00px;top:488.00px;width:132.70px;height:0.60px;background:#e6e6e6;"></div>
<div class="b" style="left:871.00px;top:522.50px;width:132.70px;height:0.60px;background:#e6e6e6;"></div>
<div class="b" style="left:871.00px;top:443.40px;width:0.50px;height:79.40px;background:#f4f4f4;"></div>
<div class="b" style="left:1003.20px;top:443.40px;width:0.50px;height:79.40px;background:#f4f4f4;"></div>
<div class="b" style="left:1086.20px;top:443.40px;width:133.80px;height:11.10px;background:#efefef;"></div>
<div class="b" style="left:1086.20px;top:454.50px;width:133.80px;height:68.30px;background:#fff;"></div>
<div class="t" style="left:1087.50px;top:443.40px;height:11.10px;line-height:11.10px;font-size:4.2px;color:#2a2a2a;-webkit-text-stroke:0.03px #2a2a2a">类型</div>
<div class="t" style="left:1115.40px;top:443.40px;height:11.10px;line-height:11.10px;font-size:4.2px;color:#2a2a2a;-webkit-text-stroke:0.03px #2a2a2a">证书名称</div>
<div class="t" style="left:1171.90px;top:443.40px;height:11.10px;line-height:11.10px;font-size:4.2px;color:#2a2a2a;-webkit-text-stroke:0.03px #2a2a2a">含金量&应用场景</div>
<div class="t" style="left:1087.50px;top:454.50px;height:11.50px;line-height:11.50px;font-size:4.2px;color:#2a2a2a;-webkit-text-stroke:0.03px #2a2a2a">就业类</div>
<div class="t" style="left:1115.40px;top:454.50px;height:11.50px;line-height:11.50px;font-size:4.2px;color:#2a2a2a;-webkit-text-stroke:0.03px #2a2a2a">各类行业资格证书（中级）</div>
<div class="t" style="left:1171.90px;top:454.50px;height:11.50px;line-height:11.50px;font-size:4.2px;color:#2a2a2a;-webkit-text-stroke:0.03px #2a2a2a">提升入职竞争力</div>
<div class="t" style="left:1087.50px;top:466.00px;height:11.50px;line-height:11.50px;font-size:4.2px;color:#2a2a2a;-webkit-text-stroke:0.03px #2a2a2a">考研类</div>
<div class="t" style="left:1115.40px;top:466.00px;height:11.50px;line-height:11.50px;font-size:4.2px;color:#2a2a2a;-webkit-text-stroke:0.03px #2a2a2a">考研英语与政治（统考）</div>
<div class="t" style="left:1171.90px;top:466.00px;height:11.50px;line-height:11.50px;font-size:4.2px;color:#2a2a2a;-webkit-text-stroke:0.03px #2a2a2a">考研复试加分</div>
<div class="t" style="left:1087.50px;top:477.50px;height:10.80px;line-height:10.80px;font-size:4.2px;color:#2a2a2a;-webkit-text-stroke:0.03px #2a2a2a">公务员类</div>
<div class="t" style="left:1115.40px;top:477.50px;height:10.80px;line-height:10.80px;font-size:4.2px;color:#2a2a2a;-webkit-text-stroke:0.03px #2a2a2a">行测与申论</div>
<div class="t" style="left:1171.90px;top:477.50px;height:10.80px;line-height:10.80px;font-size:4.2px;color:#2a2a2a;-webkit-text-stroke:0.03px #2a2a2a">体制内就业</div>
<div class="t" style="left:1087.50px;top:488.30px;height:11.70px;line-height:11.70px;font-size:4.2px;color:#2a2a2a;-webkit-text-stroke:0.03px #2a2a2a">教师资格类</div>
<div class="t" style="left:1115.40px;top:488.30px;height:11.70px;line-height:11.70px;font-size:4.2px;color:#2a2a2a;-webkit-text-stroke:0.03px #2a2a2a">教师资格面试</div>
<div class="t" style="left:1171.90px;top:488.30px;height:11.70px;line-height:11.70px;font-size:4.2px;color:#2a2a2a;-webkit-text-stroke:0.03px #2a2a2a">师范类必备</div>
<div class="t" style="left:1087.50px;top:500.00px;height:11.50px;line-height:11.50px;font-size:4.2px;color:#2a2a2a;-webkit-text-stroke:0.03px #2a2a2a">专业高级</div>
<div class="t" style="left:1115.40px;top:500.00px;height:11.50px;line-height:11.50px;font-size:4.2px;color:#2a2a2a;-webkit-text-stroke:0.03px #2a2a2a">高级专业证书（进阶）</div>
<div class="t" style="left:1171.90px;top:500.00px;height:11.50px;line-height:11.50px;font-size:4.2px;color:#2a2a2a;-webkit-text-stroke:0.03px #2a2a2a">职场、行业发展高级证明</div>
<div class="t" style="left:1087.50px;top:511.50px;height:11.30px;line-height:11.30px;font-size:4.2px;color:#2a2a2a;-webkit-text-stroke:0.03px #2a2a2a">行业通用资格</div>
<div class="t" style="left:1115.40px;top:511.50px;height:11.30px;line-height:11.30px;font-size:4.2px;color:#2a2a2a;-webkit-text-stroke:0.03px #2a2a2a">通用资格证书，职业技能证</div>
<div class="t" style="left:1171.90px;top:511.50px;height:11.30px;line-height:11.30px;font-size:4.2px;color:#2a2a2a;-webkit-text-stroke:0.03px #2a2a2a">就业率高，职业发展能力</div>
<div class="b" style="left:1113.85px;top:443.40px;width:0.50px;height:79.40px;background:#ededed;"></div>
<div class="b" style="left:1170.35px;top:443.40px;width:0.50px;height:79.40px;background:#ededed;"></div>
<div class="b" style="left:1086.20px;top:454.20px;width:133.80px;height:0.60px;background:#e6e6e6;"></div>
<div class="b" style="left:1086.20px;top:477.20px;width:133.80px;height:0.60px;background:#e6e6e6;"></div>
<div class="b" style="left:1086.20px;top:488.00px;width:133.80px;height:0.60px;background:#e6e6e6;"></div>
<div class="b" style="left:1086.20px;top:522.50px;width:133.80px;height:0.60px;background:#e6e6e6;"></div>
<div class="b" style="left:1086.20px;top:443.40px;width:0.50px;height:79.40px;background:#f4f4f4;"></div>
<svg width="1296" height="840"><polygon points="289.30,270.52 289.92,272.01 291.53,272.14 290.31,273.19 290.68,274.77 289.30,273.92 287.92,274.77 288.29,273.19 287.07,272.14 288.68,272.01" fill="#f7a21b"/><polygon points="289.30,282.45 289.92,283.94 291.53,284.07 290.31,285.13 290.68,286.70 289.30,285.86 287.92,286.70 288.29,285.13 287.07,284.07 288.68,283.94" fill="#f7a21b"/><polygon points="289.30,294.38 289.92,295.88 291.53,296.01 290.31,297.06 290.68,298.63 289.30,297.79 287.92,298.63 288.29,297.06 287.07,296.01 288.68,295.88" fill="#f7a21b"/><polygon points="289.30,306.32 289.92,307.81 291.53,307.94 290.31,308.99 290.68,310.57 289.30,309.72 287.92,310.57 288.29,308.99 287.07,307.94 288.68,307.81" fill="#f7a21b"/><polygon points="294.05,306.32 294.67,307.81 296.28,307.94 295.06,308.99 295.43,310.57 294.05,309.72 292.67,310.57 293.04,308.99 291.82,307.94 293.43,307.81" fill="#f7a21b"/><polygon points="289.30,318.25 289.92,319.74 291.53,319.87 290.31,320.93 290.68,322.50 289.30,321.66 287.92,322.50 288.29,320.93 287.07,319.87 288.68,319.74" fill="#f7a21b"/><polygon points="294.05,318.25 294.67,319.74 296.28,319.87 295.06,320.93 295.43,322.50 294.05,321.66 292.67,322.50 293.04,320.93 291.82,319.87 293.43,319.74" fill="#f7a21b"/><polygon points="289.30,330.18 289.92,331.68 291.53,331.81 290.31,332.86 290.68,334.43 289.30,333.59 287.92,334.43 288.29,332.86 287.07,331.81 288.68,331.68" fill="#f7a21b"/><polygon points="289.30,342.12 289.92,343.61 291.53,343.74 290.31,344.79 290.68,346.37 289.30,345.52 287.92,346.37 288.29,344.79 287.07,343.74 288.68,343.61" fill="#f7a21b"/><polygon points="294.05,342.12 294.67,343.61 296.28,343.74 295.06,344.79 295.43,346.37 294.05,345.52 292.67,346.37 293.04,344.79 291.82,343.74 293.43,343.61" fill="#f7a21b"/><polygon points="289.30,354.05 289.92,355.54 291.53,355.67 290.31,356.73 290.68,358.30 289.30,357.46 287.92,358.30 288.29,356.73 287.07,355.67 288.68,355.54" fill="#f7a21b"/><polygon points="294.05,354.05 294.67,355.54 296.28,355.67 295.06,356.73 295.43,358.30 294.05,357.46 292.67,358.30 293.04,356.73 291.82,355.67 293.43,355.54" fill="#f7a21b"/><polygon points="289.30,365.98 289.92,367.48 291.53,367.61 290.31,368.66 290.68,370.23 289.30,369.39 287.92,370.23 288.29,368.66 287.07,367.61 288.68,367.48" fill="#f7a21b"/><polygon points="294.05,365.98 294.67,367.48 296.28,367.61 295.06,368.66 295.43,370.23 294.05,369.39 292.67,370.23 293.04,368.66 291.82,367.61 293.43,367.48" fill="#f7a21b"/><polygon points="298.80,365.98 299.42,367.48 301.03,367.61 299.81,368.66 300.18,370.23 298.80,369.39 297.42,370.23 297.79,368.66 296.57,367.61 298.18,367.48" fill="#f7a21b"/><polygon points="289.30,377.92 289.92,379.41 291.53,379.54 290.31,380.59 290.68,382.17 289.30,381.32 287.92,382.17 288.29,380.59 287.07,379.54 288.68,379.41" fill="#f7a21b"/><polygon points="294.05,377.92 294.67,379.41 296.28,379.54 295.06,380.59 295.43,382.17 294.05,381.32 292.67,382.17 293.04,380.59 291.82,379.54 293.43,379.41" fill="#f7a21b"/><polygon points="298.80,377.92 299.42,379.41 301.03,379.54 299.81,380.59 300.18,382.17 298.80,381.32 297.42,382.17 297.79,380.59 296.57,379.54 298.18,379.41" fill="#f7a21b"/><polygon points="289.30,389.85 289.92,391.34 291.53,391.47 290.31,392.53 290.68,394.10 289.30,393.26 287.92,394.10 288.29,392.53 287.07,391.47 288.68,391.34" fill="#f7a21b"/><polygon points="294.05,389.85 294.67,391.34 296.28,391.47 295.06,392.53 295.43,394.10 294.05,393.26 292.67,394.10 293.04,392.53 291.82,391.47 293.43,391.34" fill="#f7a21b"/><polygon points="298.80,389.85 299.42,391.34 301.03,391.47 299.81,392.53 300.18,394.10 298.80,393.26 297.42,394.10 297.79,392.53 296.57,391.47 298.18,391.34" fill="#f7a21b"/><polygon points="289.30,401.78 289.92,403.28 291.53,403.41 290.31,404.46 290.68,406.03 289.30,405.19 287.92,406.03 288.29,404.46 287.07,403.41 288.68,403.28" fill="#f7a21b"/><polygon points="294.05,401.78 294.67,403.28 296.28,403.41 295.06,404.46 295.43,406.03 294.05,405.19 292.67,406.03 293.04,404.46 291.82,403.41 293.43,403.28" fill="#f7a21b"/><polygon points="289.30,413.72 289.92,415.21 291.53,415.34 290.31,416.39 290.68,417.97 289.30,417.12 287.92,417.97 288.29,416.39 287.07,415.34 288.68,415.21" fill="#f7a21b"/><polygon points="294.05,413.72 294.67,415.21 296.28,415.34 295.06,416.39 295.43,417.97 294.05,417.12 292.67,417.97 293.04,416.39 291.82,415.34 293.43,415.21" fill="#f7a21b"/><polygon points="298.80,413.72 299.42,415.21 301.03,415.34 299.81,416.39 300.18,417.97 298.80,417.12 297.42,417.97 297.79,416.39 296.57,415.34 298.18,415.21" fill="#f7a21b"/><polygon points="289.30,425.65 289.92,427.14 291.53,427.27 290.31,428.33 290.68,429.90 289.30,429.06 287.92,429.90 288.29,428.33 287.07,427.27 288.68,427.14" fill="#f7a21b"/><polygon points="294.05,425.65 294.67,427.14 296.28,427.27 295.06,428.33 295.43,429.90 294.05,429.06 292.67,429.90 293.04,428.33 291.82,427.27 293.43,427.14" fill="#f7a21b"/><polygon points="298.80,425.65 299.42,427.14 301.03,427.27 299.81,428.33 300.18,429.90 298.80,429.06 297.42,429.90 297.79,428.33 296.57,427.27 298.18,427.14" fill="#f7a21b"/><polygon points="303.55,425.65 304.17,427.14 305.78,427.27 304.56,428.33 304.93,429.90 303.55,429.06 302.17,429.90 302.54,428.33 301.32,427.27 302.93,427.14" fill="#f7a21b"/><polygon points="289.30,437.58 289.92,439.08 291.53,439.21 290.31,440.26 290.68,441.83 289.30,440.99 287.92,441.83 288.29,440.26 287.07,439.21 288.68,439.08" fill="#f7a21b"/><polygon points="294.05,437.58 294.67,439.08 296.28,439.21 295.06,440.26 295.43,441.83 294.05,440.99 292.67,441.83 293.04,440.26 291.82,439.21 293.43,439.08" fill="#f7a21b"/><polygon points="298.80,437.58 299.42,439.08 301.03,439.21 299.81,440.26 300.18,441.83 298.80,440.99 297.42,441.83 297.79,440.26 296.57,439.21 298.18,439.08" fill="#f7a21b"/><polygon points="289.30,449.52 289.92,451.01 291.53,451.14 290.31,452.19 290.68,453.77 289.30,452.92 287.92,453.77 288.29,452.19 287.07,451.14 288.68,451.01" fill="#f7a21b"/><polygon points="294.05,449.52 294.67,451.01 296.28,451.14 295.06,452.19 295.43,453.77 294.05,452.92 292.67,453.77 293.04,452.19 291.82,451.14 293.43,451.01" fill="#f7a21b"/><polygon points="298.80,449.52 299.42,451.01 301.03,451.14 299.81,452.19 300.18,453.77 298.80,452.92 297.42,453.77 297.79,452.19 296.57,451.14 298.18,451.01" fill="#f7a21b"/><polygon points="289.30,461.45 289.92,462.94 291.53,463.07 290.31,464.13 290.68,465.70 289.30,464.86 287.92,465.70 288.29,464.13 287.07,463.07 288.68,462.94" fill="#f7a21b"/><polygon points="294.05,461.45 294.67,462.94 296.28,463.07 295.06,464.13 295.43,465.70 294.05,464.86 292.67,465.70 293.04,464.13 291.82,463.07 293.43,462.94" fill="#f7a21b"/><polygon points="298.80,461.45 299.42,462.94 301.03,463.07 299.81,464.13 300.18,465.70 298.80,464.86 297.42,465.70 297.79,464.13 296.57,463.07 298.18,462.94" fill="#f7a21b"/><polygon points="289.30,473.38 289.92,474.88 291.53,475.01 290.31,476.06 290.68,477.63 289.30,476.79 287.92,477.63 288.29,476.06 287.07,475.01 288.68,474.88" fill="#f7a21b"/><polygon points="294.05,473.38 294.67,474.88 296.28,475.01 295.06,476.06 295.43,477.63 294.05,476.79 292.67,477.63 293.04,476.06 291.82,475.01 293.43,474.88" fill="#f7a21b"/><polygon points="298.80,473.38 299.42,474.88 301.03,475.01 299.81,476.06 300.18,477.63 298.80,476.79 297.42,477.63 297.79,476.06 296.57,475.01 298.18,474.88" fill="#f7a21b"/><polygon points="303.55,473.38 304.17,474.88 305.78,475.01 304.56,476.06 304.93,477.63 303.55,476.79 302.17,477.63 302.54,476.06 301.32,475.01 302.93,474.88" fill="#f7a21b"/><polygon points="289.30,485.32 289.92,486.81 291.53,486.94 290.31,487.99 290.68,489.57 289.30,488.72 287.92,489.57 288.29,487.99 287.07,486.94 288.68,486.81" fill="#f7a21b"/><polygon points="294.05,485.32 294.67,486.81 296.28,486.94 295.06,487.99 295.43,489.57 294.05,488.72 292.67,489.57 293.04,487.99 291.82,486.94 293.43,486.81" fill="#f7a21b"/><polygon points="289.30,497.25 289.92,498.74 291.53,498.87 290.31,499.93 290.68,501.50 289.30,500.66 287.92,501.50 288.29,499.93 287.07,498.87 288.68,498.74" fill="#f7a21b"/><polygon points="294.05,497.25 294.67,498.74 296.28,498.87 295.06,499.93 295.43,501.50 294.05,500.66 292.67,501.50 293.04,499.93 291.82,498.87 293.43,498.74" fill="#f7a21b"/><polygon points="298.80,497.25 299.42,498.74 301.03,498.87 299.81,499.93 300.18,501.50 298.80,500.66 297.42,501.50 297.79,499.93 296.57,498.87 298.18,498.74" fill="#f7a21b"/><polygon points="289.30,509.18 289.92,510.68 291.53,510.81 290.31,511.86 290.68,513.43 289.30,512.59 287.92,513.43 288.29,511.86 287.07,510.81 288.68,510.68" fill="#f7a21b"/><polygon points="294.05,509.18 294.67,510.68 296.28,510.81 295.06,511.86 295.43,513.43 294.05,512.59 292.67,513.43 293.04,511.86 291.82,510.81 293.43,510.68" fill="#f7a21b"/><polygon points="298.80,509.18 299.42,510.68 301.03,510.81 299.81,511.86 300.18,513.43 298.80,512.59 297.42,513.43 297.79,511.86 296.57,510.81 298.18,510.68" fill="#f7a21b"/><polygon points="303.55,509.18 304.17,510.68 305.78,510.81 304.56,511.86 304.93,513.43 303.55,512.59 302.17,513.43 302.54,511.86 301.32,510.81 302.93,510.68" fill="#f7a21b"/><polygon points="289.30,521.12 289.92,522.61 291.53,522.74 290.31,523.79 290.68,525.37 289.30,524.52 287.92,525.37 288.29,523.79 287.07,522.74 288.68,522.61" fill="#f7a21b"/><polygon points="294.05,521.12 294.67,522.61 296.28,522.74 295.06,523.79 295.43,525.37 294.05,524.52 292.67,525.37 293.04,523.79 291.82,522.74 293.43,522.61" fill="#f7a21b"/><polygon points="298.80,521.12 299.42,522.61 301.03,522.74 299.81,523.79 300.18,525.37 298.80,524.52 297.42,525.37 297.79,523.79 296.57,522.74 298.18,522.61" fill="#f7a21b"/><polygon points="303.55,521.12 304.17,522.61 305.78,522.74 304.56,523.79 304.93,525.37 303.55,524.52 302.17,525.37 302.54,523.79 301.32,522.74 302.93,522.61" fill="#f7a21b"/><polygon points="308.30,521.12 308.92,522.61 310.53,522.74 309.31,523.79 309.68,525.37 308.30,524.52 306.92,525.37 307.29,523.79 306.07,522.74 307.68,522.61" fill="#f7a21b"/><polygon points="289.30,533.05 289.92,534.54 291.53,534.67 290.31,535.73 290.68,537.30 289.30,536.46 287.92,537.30 288.29,535.73 287.07,534.67 288.68,534.54" fill="#f7a21b"/><polygon points="294.05,533.05 294.67,534.54 296.28,534.67 295.06,535.73 295.43,537.30 294.05,536.46 292.67,537.30 293.04,535.73 291.82,534.67 293.43,534.54" fill="#f7a21b"/><polygon points="298.80,533.05 299.42,534.54 301.03,534.67 299.81,535.73 300.18,537.30 298.80,536.46 297.42,537.30 297.79,535.73 296.57,534.67 298.18,534.54" fill="#f7a21b"/><polygon points="303.55,533.05 304.17,534.54 305.78,534.67 304.56,535.73 304.93,537.30 303.55,536.46 302.17,537.30 302.54,535.73 301.32,534.67 302.93,534.54" fill="#f7a21b"/><polygon points="289.30,544.98 289.92,546.48 291.53,546.61 290.31,547.66 290.68,549.23 289.30,548.39 287.92,549.23 288.29,547.66 287.07,546.61 288.68,546.48" fill="#f7a21b"/><polygon points="294.05,544.98 294.67,546.48 296.28,546.61 295.06,547.66 295.43,549.23 294.05,548.39 292.67,549.23 293.04,547.66 291.82,546.61 293.43,546.48" fill="#f7a21b"/><polygon points="298.80,544.98 299.42,546.48 301.03,546.61 299.81,547.66 300.18,549.23 298.80,548.39 297.42,549.23 297.79,547.66 296.57,546.61 298.18,546.48" fill="#f7a21b"/><polygon points="303.55,544.98 304.17,546.48 305.78,546.61 304.56,547.66 304.93,549.23 303.55,548.39 302.17,549.23 302.54,547.66 301.32,546.61 302.93,546.48" fill="#f7a21b"/><polygon points="289.30,556.92 289.92,558.41 291.53,558.54 290.31,559.59 290.68,561.17 289.30,560.32 287.92,561.17 288.29,559.59 287.07,558.54 288.68,558.41" fill="#f7a21b"/><polygon points="294.05,556.92 294.67,558.41 296.28,558.54 295.06,559.59 295.43,561.17 294.05,560.32 292.67,561.17 293.04,559.59 291.82,558.54 293.43,558.41" fill="#f7a21b"/><polygon points="298.80,556.92 299.42,558.41 301.03,558.54 299.81,559.59 300.18,561.17 298.80,560.32 297.42,561.17 297.79,559.59 296.57,558.54 298.18,558.41" fill="#f7a21b"/><polygon points="303.55,556.92 304.17,558.41 305.78,558.54 304.56,559.59 304.93,561.17 303.55,560.32 302.17,561.17 302.54,559.59 301.32,558.54 302.93,558.41" fill="#f7a21b"/><polygon points="289.30,568.85 289.92,570.34 291.53,570.47 290.31,571.53 290.68,573.10 289.30,572.26 287.92,573.10 288.29,571.53 287.07,570.47 288.68,570.34" fill="#f7a21b"/><polygon points="294.05,568.85 294.67,570.34 296.28,570.47 295.06,571.53 295.43,573.10 294.05,572.26 292.67,573.10 293.04,571.53 291.82,570.47 293.43,570.34" fill="#f7a21b"/><polygon points="289.30,580.78 289.92,582.28 291.53,582.41 290.31,583.46 290.68,585.03 289.30,584.19 287.92,585.03 288.29,583.46 287.07,582.41 288.68,582.28" fill="#f7a21b"/><polygon points="294.05,580.78 294.67,582.28 296.28,582.41 295.06,583.46 295.43,585.03 294.05,584.19 292.67,585.03 293.04,583.46 291.82,582.41 293.43,582.28" fill="#f7a21b"/><polygon points="298.80,580.78 299.42,582.28 301.03,582.41 299.81,583.46 300.18,585.03 298.80,584.19 297.42,585.03 297.79,583.46 296.57,582.41 298.18,582.28" fill="#f7a21b"/><polygon points="303.55,580.78 304.17,582.28 305.78,582.41 304.56,583.46 304.93,585.03 303.55,584.19 302.17,585.03 302.54,583.46 301.32,582.41 302.93,582.28" fill="#f7a21b"/><path d="M449.30 398.80 L451.80 400.10 L449.30 401.40 Z" fill="#e8182e"/><line x1="449.55" y1="398.90" x2="449.55" y2="404.10" stroke="#8a9aa0" stroke-width="0.6"/><path d="M449.30 408.80 L451.80 410.10 L449.30 411.40 Z" fill="#e8182e"/><line x1="449.55" y1="408.90" x2="449.55" y2="414.10" stroke="#8a9aa0" stroke-width="0.6"/><rect x="447.70" y="539.10" width="4.8" height="4.8" rx="0.7" fill="#5db445"/><path d="M448.70 541.60 L449.70 542.60 L451.60 540.30" stroke="#fff" stroke-width="0.7" fill="none"/><rect x="447.70" y="549.10" width="4.8" height="4.8" rx="0.7" fill="#5db445"/><path d="M448.70 551.60 L449.70 552.60 L451.60 550.30" stroke="#fff" stroke-width="0.7" fill="none"/><path d="M652.60 398.80 L655.10 400.10 L652.60 401.40 Z" fill="#e8182e"/><line x1="652.85" y1="398.90" x2="652.85" y2="404.10" stroke="#8a9aa0" stroke-width="0.6"/><path d="M652.60 408.80 L655.10 410.10 L652.60 411.40 Z" fill="#e8182e"/><line x1="652.85" y1="408.90" x2="652.85" y2="414.10" stroke="#8a9aa0" stroke-width="0.6"/><rect x="651.00" y="544.10" width="4.8" height="4.8" rx="0.7" fill="#5db445"/><path d="M652.00 546.60 L653.00 547.60 L654.90 545.30" stroke="#fff" stroke-width="0.7" fill="none"/><rect x="651.00" y="554.10" width="4.8" height="4.8" rx="0.7" fill="#5db445"/><path d="M652.00 556.60 L653.00 557.60 L654.90 555.30" stroke="#fff" stroke-width="0.7" fill="none"/><rect x="651.00" y="564.10" width="4.8" height="4.8" rx="0.7" fill="#5db445"/><path d="M652.00 566.60 L653.00 567.60 L654.90 565.30" stroke="#fff" stroke-width="0.7" fill="none"/><path d="M868.40 398.80 L870.90 400.10 L868.40 401.40 Z" fill="#e8182e"/><line x1="868.65" y1="398.90" x2="868.65" y2="404.10" stroke="#8a9aa0" stroke-width="0.6"/><path d="M868.40 408.80 L870.90 410.10 L868.40 411.40 Z" fill="#e8182e"/><line x1="868.65" y1="408.90" x2="868.65" y2="414.10" stroke="#8a9aa0" stroke-width="0.6"/><rect x="866.80" y="544.10" width="4.8" height="4.8" rx="0.7" fill="#5db445"/><path d="M867.80 546.60 L868.80 547.60 L870.70 545.30" stroke="#fff" stroke-width="0.7" fill="none"/><rect x="866.80" y="554.10" width="4.8" height="4.8" rx="0.7" fill="#5db445"/><path d="M867.80 556.60 L868.80 557.60 L870.70 555.30" stroke="#fff" stroke-width="0.7" fill="none"/><rect x="866.80" y="564.10" width="4.8" height="4.8" rx="0.7" fill="#5db445"/><path d="M867.80 566.60 L868.80 567.60 L870.70 565.30" stroke="#fff" stroke-width="0.7" fill="none"/><path d="M1084.10 398.80 L1086.60 400.10 L1084.10 401.40 Z" fill="#e8182e"/><line x1="1084.35" y1="398.90" x2="1084.35" y2="404.10" stroke="#8a9aa0" stroke-width="0.6"/><path d="M1084.10 408.80 L1086.60 410.10 L1084.10 411.40 Z" fill="#e8182e"/><line x1="1084.35" y1="408.90" x2="1084.35" y2="414.10" stroke="#8a9aa0" stroke-width="0.6"/><rect x="1082.50" y="544.10" width="4.8" height="4.8" rx="0.7" fill="#5db445"/><path d="M1083.50 546.60 L1084.50 547.60 L1086.40 545.30" stroke="#fff" stroke-width="0.7" fill="none"/><rect x="1082.50" y="554.10" width="4.8" height="4.8" rx="0.7" fill="#5db445"/><path d="M1083.50 556.60 L1084.50 557.60 L1086.40 555.30" stroke="#fff" stroke-width="0.7" fill="none"/><rect x="1082.50" y="564.10" width="4.8" height="4.8" rx="0.7" fill="#5db445"/><path d="M1083.50 566.60 L1084.50 567.60 L1086.40 565.30" stroke="#fff" stroke-width="0.7" fill="none"/></svg>
</div></body></html>
